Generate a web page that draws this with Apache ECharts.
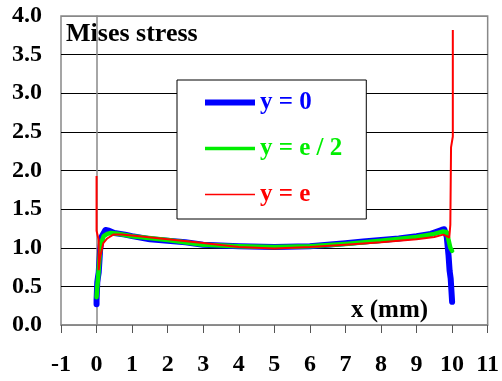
<!DOCTYPE html>
<html style="height: 100%">
<head>
<meta charset="utf-8">
<script src="https://cdn.jsdelivr.net/npm/echarts@6/dist/echarts.min.js"></script>
</head>
<body style="height: 100%; margin: 0; background: #fff">
<div id="container" style="width: 502px; height: 381px"></div>
<script>
// series names
var names = ['y = 0', 'y = e / 2', 'y = e'];

// y = 0
var x0 = [0.0, 0.0, 0.02, 0.04, 0.06, 0.1, 0.15, 0.25, 0.35, 0.5, 0.8, 1.0, 1.5, 2.0, 2.5, 3.0, 3.5, 4.0, 5.0, 6.0, 6.5, 7.0, 7.5, 8.0, 8.5, 9.0, 9.4, 9.7, 9.78, 9.85, 9.9, 9.93, 9.96, 10.0];
var y0 = [0.27, 0.32, 0.55, 0.62, 0.68, 0.97, 1.15, 1.23, 1.22, 1.19, 1.17, 1.15, 1.11, 1.09, 1.07, 1.04, 1.03, 1.02, 1.01, 1.02, 1.04, 1.06, 1.08, 1.1, 1.12, 1.15, 1.18, 1.23, 1.24, 1.14, 0.9, 0.7, 0.6, 0.3];

// y = e / 2
var x1 = [0.0, 0.02, 0.05, 0.08, 0.12, 0.2, 0.3, 0.4, 0.6, 1.0, 2.0, 3.0, 4.0, 5.0, 6.0, 7.0, 8.0, 9.0, 9.5, 9.75, 9.85, 9.9, 9.95, 10.0];
var y1 = [0.36, 0.5, 0.65, 0.85, 1.05, 1.15, 1.18, 1.19, 1.18, 1.15, 1.1, 1.04, 1.02, 1.01, 1.02, 1.05, 1.09, 1.14, 1.18, 1.21, 1.2, 1.1, 1.0, 0.96];

// y = e
var x2 = [0.0, 0.0, 0.06, 0.06, 0.1, 0.19, 0.3, 0.47, 0.7, 1.0, 2.0, 3.0, 4.0, 5.0, 6.0, 7.0, 8.0, 9.0, 9.5, 9.75, 9.85, 9.92, 9.95, 9.97, 10.02, 10.02];
var y2 = [1.93, 1.22, 1.1, 0.71, 0.88, 1.06, 1.12, 1.17, 1.17, 1.16, 1.11, 1.06, 1.01, 0.99, 1.01, 1.04, 1.07, 1.11, 1.14, 1.17, 1.15, 1.13, 1.3, 2.3, 2.44, 3.82];

function pairs(xs, ys) {
    return xs.map(function (x, i) { return [x, ys[i]]; });
}

var font = 'Liberation Serif';
var myChart = echarts.init(document.getElementById('container'));

var option = {
    animation: false,
    backgroundColor: '#fff',
    grid: {
        left: 61, right: 14, top: 16, bottom: 56,
        show: true, borderColor: '#888', borderWidth: 1.5
    },
    legend: {
        orient: 'vertical',
        left: 177, top: 80,
        padding: [10, 24, 12, 28],
        itemWidth: 50, itemHeight: 24, itemGap: 21,
        backgroundColor: '#fff',
        borderColor: '#000', borderWidth: 1,
        data: [
            // thin rectangles as line icons
            {name: names[0], icon: 'path://M0,0H50V6H0Z', textStyle: {color: '#0000ff'}},
            {name: names[1], icon: 'path://M0,0H50V3.5H0Z', textStyle: {color: '#00ee00'}},
            {name: names[2], icon: 'path://M0,0H100V3H0Z', textStyle: {color: '#ff0000'}}
        ],
        textStyle: {fontFamily: font, fontWeight: 'bold', fontSize: 25}
    },
    xAxis: {
        type: 'value', min: -1, max: 11, interval: 1,
        axisLine: {onZero: false, lineStyle: {color: '#888', width: 1.5}},
        axisTick: {show: true, inside: false, length: 8, lineStyle: {color: '#555'}},
        axisLabel: {margin: 28, color: '#000', fontFamily: font, fontWeight: 'bold', fontSize: 24},
        splitLine: {show: false}
    },
    yAxis: {
        type: 'value', min: 0, max: 4, interval: 0.5,
        axisLine: {show: true, lineStyle: {color: '#888', width: 1.5}},
        axisTick: {show: false},
        axisLabel: {
            margin: 19, color: '#000', fontFamily: font, fontWeight: 'bold', fontSize: 24,
            formatter: function (v) { return v.toFixed(1); }
        },
        splitLine: {show: true, lineStyle: {color: ['#888', '#000', '#000', '#000', '#000', '#000', '#000', '#000', '#888'], width: 1}}
    },
    graphic: [
        {type: 'text', left: 66, top: 21, style: {text: 'Mises stress', fill: '#000', font: 'bold 26px "Liberation Serif"'}},
        {type: 'text', left: 351, top: 298, style: {text: 'x (mm)', fill: '#000', font: 'bold 25px "Liberation Serif"'}}
    ],
    series: [
        {name: names[0], type: 'line', showSymbol: false, symbol: 'none', data: pairs(x0, y0),
         lineStyle: {color: '#0000ff', width: 6, cap: 'round', join: 'round'}, itemStyle: {color: '#0000ff'}},
        {name: names[1], type: 'line', showSymbol: false, symbol: 'none', data: pairs(x1, y1),
         lineStyle: {color: '#00ee00', width: 4.5, cap: 'round', join: 'round'}, itemStyle: {color: '#00ee00'}},
        {name: names[2], type: 'line', showSymbol: false, symbol: 'none', data: pairs(x2, y2),
         lineStyle: {color: '#ff0000', width: 2}, itemStyle: {color: '#ff0000'}}
    ]
};

myChart.setOption(option);
</script>
</body>
</html>
